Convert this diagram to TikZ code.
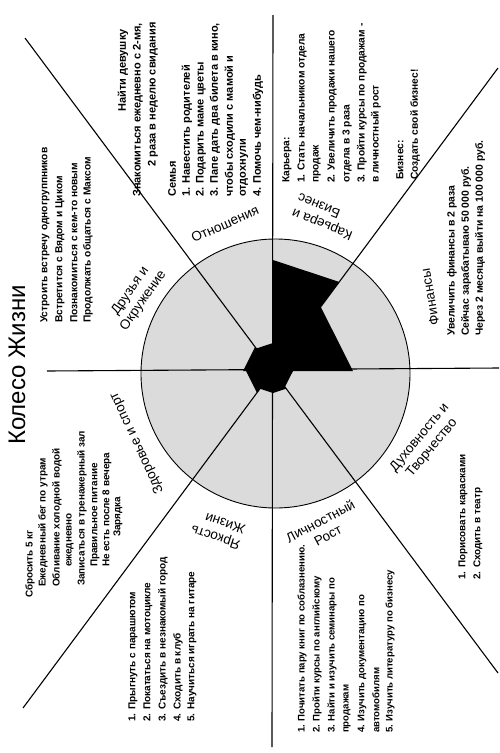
\documentclass[tikz,border=0pt]{standalone}
\usepackage{fontspec}
\setmainfont{Liberation Sans}
\begin{document}
\begin{tikzpicture}[x=1pt,y=-1pt,
  vt/.style={rotate=90,anchor=west,inner sep=0pt,font=\bfseries\fontsize{#1}{#1}\selectfont},
  vt/.default=10.5,
  lab/.style={inner sep=0pt,font=\fontsize{13.5}{16}\selectfont},
  axisline/.style={line width=1.1pt},
]
\useasboundingbox (0,0) rectangle (499,753);
\fill[white] (0,0) rectangle (499,753);
\coordinate (C) at (273,371);
% wheel
\draw[fill=black!14, line width=0.9pt] (275.5,373.5) circle (134.5);
% levels
\fill[black] (C) -- +(0:80) -- +(-53.4:80) -- cycle;
\fill[black] (C) -- +(-53.4:111) -- +(-90:111) -- cycle;
\fill[black] (C) -- +(-90:28) -- +(-126.7:28) -- cycle;
\fill[black] (C) -- +(-126.7:30) -- +(-180:30) -- cycle;
\fill[black] (C) -- +(-180:27) -- +(-233.4:27) -- cycle;
\fill[black] (C) -- +(-233.4:22) -- +(-270:22) -- cycle;
\fill[black] (C) -- +(-270:22) -- +(-306.7:22) -- cycle;
\fill[black] (C) -- +(-306.7:20) -- +(-360:20) -- cycle;
% axes
\coordinate (vT) at (273,15);   \coordinate (vB) at (272,747);
\coordinate (hL) at (47,371);   \coordinate (hR) at (499,368);
\coordinate (dNW) at (25,38);   \coordinate (dSE) at (498,673);
\coordinate (dNE) at (498,68);  \coordinate (dSW) at (23,708);
\draw[axisline] (vT) -- (vB);
\draw[axisline] (hL) -- (hR);
\draw[axisline] (dNW) -- (dSE);
\draw[axisline] (dNE) -- (dSW);
% title
\node[rotate=90,inner sep=0pt,font=\fontsize{24}{26}\selectfont] (title) at (17,365) {Колесо Жизни};
% sector labels
\node[lab,rotate=24] (L1) at (225,224) {Отношения};
\node[lab,rotate=158,align=right] (L2) at (325,217) {Карьера и\\Бизнес};
\node[lab,rotate=100] (L4) at (430,297) {Финансы};
\node[lab,rotate=55,align=center] (L5) at (137,296) {Друзья и\\Окружение};
\node[lab,rotate=115] (L7) at (137,443) {Здоровье и спорт};
\node[lab,rotate=162,align=left] (L8) at (218,530) {Яркость\\Жизни};
\node[lab,rotate=28,align=center] (L10) at (324,528) {Личностный\\Рост};
\node[lab,rotate=50,align=center] (L12) at (426,443) {Духовность и\\Творчество};
% relationships
\node[vt=11] (r1) at (123,112) {Найти девушку};
\node[vt=11] (r2) at (138,197) {Знакомиться ежедневно с 2-мя,};
\node[vt=11] (r3) at (153,167) {2 раза в неделю свидания};
\node[vt=11] (r4) at (172,197) {Семья};
\node[vt=11] (r5) at (187,197) {1. Навестить родителей};
\node[vt=11] (r6) at (201,197) {2. Подарить маме цветы};
\node[vt=11] (r7) at (215,197) {3. Папе дать два билета в кино,};
\node[vt=11] (r8) at (230,197) {чтобы сходили с мамой и};
\node[vt=11] (r9) at (244,197) {отдохнули};
\node[vt=11] (r10) at (258,197) {4. Помочь чем-нибудь};
% career
\node[vt=10.2] (c1) at (287,183) {Карьера:};
\node[vt=10.2] (c2) at (302,183) {1. Стать начальником отдела};
\node[vt=10.2] (c3) at (317,183) {продаж};
\node[vt=10.2] (c4) at (332,183) {2. Увеличить продажи нашего};
\node[vt=10.2] (c5) at (347,183) {отдела в 3 раза};
\node[vt=10.2] (c6) at (362,183) {3. Пройти курсы по продажам -};
\node[vt=10.2] (c7) at (376,183) {в личностный рост};
\node[vt=10.2] (b1) at (400,180) {Бизнес:};
\node[vt=10.2] (b2) at (415,180) {Создать свой бизнес!};
% finance
\node[vt=10.4] (f1) at (452,336) {Увеличить финансы в 2 раза};
\node[vt=10.4] (f2) at (466,336) {Сейчас зарабатываю 50 000 руб.};
\node[vt=10.4] (f3) at (480,336) {Через 2 месяца выйти на 100 000 руб.};
% friends
\node[vt=10.2] (d1) at (45,323) {Устроить встречу одногруппников};
\node[vt=10.2] (d2) at (60,323) {Встретится с Вядом и Циком};
\node[vt=10.2] (d3) at (74,323) {Познакомиться с кем-то новым};
\node[vt=10.2] (d4) at (88,323) {Продолжать общаться с Максом};
% health
\node[vt=9.9] (h1) at (30,598) {Сбросить 5 кг};
\node[vt=9.9] (h2) at (43,587) {Ежедневный бег по утрам};
\node[vt=9.9] (h3) at (57,587) {Обливание холодной водой};
\node[vt=9.9] (h4) at (70,567) {ежедневно};
\node[vt=9.9] (h5) at (82,586) {Записаться в тренажерный зал};
\node[vt=9.9] (h6) at (95,567) {Правильное питание};
\node[vt=9.9] (h7) at (107,567) {Не есть после 8 вечера};
\node[vt=9.9] (h8) at (118,537) {Зарядка};
% brightness
\node[vt=10] (y1) at (133,722) {1. Прыгнуть с парашютом};
\node[vt=10] (y2) at (148,722) {2. Покататься на мотоцикле};
\node[vt=10] (y3) at (163,722) {3. Съездить в незнакомый город};
\node[vt=10] (y4) at (178,722) {4. Сходить в клуб};
\node[vt=10] (y5) at (192,722) {5. Научиться играть на гитаре};
% personal growth
\node[vt=9.6] (l1) at (302,733) {1. Почитать пару книг по соблазнению.};
\node[vt=9.6] (l2) at (317,733) {2. Пройти курсы по английскому};
\node[vt=9.6] (l3) at (332,733) {3. Найти и изучить семинары по};
\node[vt=9.6] (l4) at (347,733) {продажам};
\node[vt=9.6] (l5) at (362,733) {4. Изучить документацию по};
\node[vt=9.6] (l6) at (376,733) {автомобилям};
\node[vt=9.6] (l7) at (390,733) {5. Изучить литературу по бизнесу};
% spirituality
\node[vt=9.9] (s1) at (463,580) {1. Порисовать карасками};
\node[vt=9.9] (s2) at (478,580) {2. Сходить в театр};
\end{tikzpicture}
\end{document}
